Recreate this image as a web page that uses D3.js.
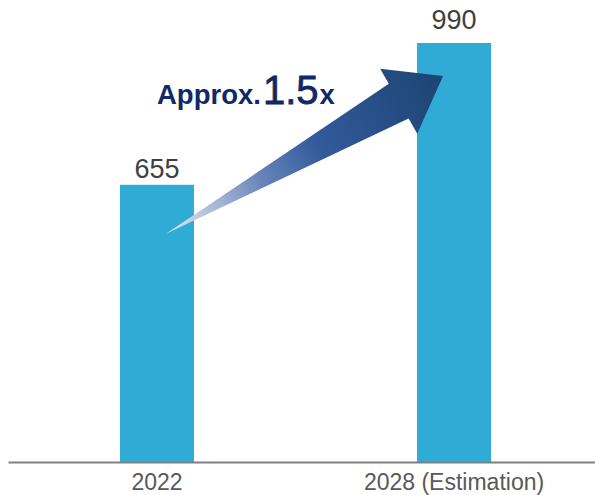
<!DOCTYPE html>
<html>
<head>
<meta charset="utf-8">
<script src="https://cdn.jsdelivr.net/npm/d3@7/dist/d3.min.js"></script>
<style>
  html, body { margin: 0; padding: 0; background: #fff; }
  svg { display: block; font-family: "Liberation Sans", Arial, sans-serif; }
</style>
</head>
<body>
<svg id="chart" width="595" height="495"></svg>
<script>
// Market size, 2022 vs. 2028 estimate
const categories = ["2022", "2028 (Estimation)"];
const values = [655, 990];
const growthLead = "Approx.";
const growthFactor = "1.5";
const growthUnit = "x";

const W = 595, H = 495;
const svg = d3.select("#chart");

const baseY = 462;
const x = d3.scaleBand()
  .domain(categories)
  .range([8, 603])
  .paddingInner(0.751)
  .paddingOuter(0.377);
const y = d3.scaleLinear().domain([0, 990]).range([baseY, 43]);

// bars
svg.selectAll("rect.bar")
  .data(values)
  .join("rect")
  .attr("class", "bar")
  .attr("x", (d, i) => x(categories[i]))
  .attr("y", d => y(d))
  .attr("width", x.bandwidth())
  .attr("height", d => baseY - y(d))
  .attr("fill", "#2fabd6");

// value labels
const labelGap = [7, 14];
svg.selectAll("text.val")
  .data(values)
  .join("text")
  .attr("class", "val")
  .attr("x", (d, i) => x(categories[i]) + x.bandwidth() / 2)
  .attr("y", (d, i) => y(d) - labelGap[i])
  .attr("text-anchor", "middle")
  .attr("font-size", 27)
  .attr("fill", "#404040")
  .text(d => d);

// x axis
const axis = svg.append("g")
  .attr("transform", `translate(0,${baseY})`)
  .call(d3.axisBottom(x).tickSize(0).tickPadding(0));
axis.select(".domain")
  .attr("stroke", "#808080")
  .attr("stroke-width", 2);
axis.selectAll(".tick text")
  .attr("y", 28)
  .attr("dy", 0)
  .attr("font-size", 23)
  .attr("font-family", "'Liberation Sans', Arial, sans-serif")
  .attr("fill", "#595959");

// growth arrow from the first bar to the second
const tail = [x(categories[0]) + x.bandwidth() / 2 + 9, y(values[0]) + 49];
const tip = [x(categories[1]) + x.bandwidth() / 2 - 11, y(values[1]) + 33];
const dx = tip[0] - tail[0], dy = tip[1] - tail[1];
const L = Math.hypot(dx, dy);
const angle = Math.atan2(dy, dx) * 180 / Math.PI;

const defs = svg.append("defs");
const grad = defs.append("linearGradient")
  .attr("id", "arrowGrad")
  .attr("gradientUnits", "userSpaceOnUse")
  .attr("x1", 0).attr("y1", 0).attr("x2", L).attr("y2", 0);
[
  [0, "#e4e8f0"],
  [0.18, "#a9b8d6"],
  [0.35, "#6583b9"],
  [0.55, "#335a9b"],
  [1, "#1c4472"]
].forEach(([o, c]) => grad.append("stop").attr("offset", o).attr("stop-color", c));

const headLen = 51, headHalf = 37.5, shaftHalf = 20;
const arrowPts = [
  [0, 0],
  [L - headLen, -shaftHalf],
  [L - headLen, -headHalf],
  [L, 0],
  [L - headLen, headHalf],
  [L - headLen, shaftHalf]
];
svg.append("path")
  .attr("transform", `translate(${tail[0]},${tail[1]}) rotate(${angle})`)
  .attr("d", "M" + arrowPts.map(p => p.join(",")).join("L") + "Z")
  .attr("fill", "url(#arrowGrad)");

// growth annotation
const note = svg.append("text")
  .attr("x", 157)
  .attr("y", 104)
  .attr("fill", "#0f2966");
note.append("tspan").attr("font-size", 27.5).attr("font-weight", "bold").text(growthLead);
note.append("tspan").attr("font-size", 40).attr("dx", 2)
  .attr("stroke", "#0f2966").attr("stroke-width", 0.8).text(growthFactor);
note.append("tspan").attr("font-size", 27.5).attr("font-weight", "bold").attr("dx", 1).text(growthUnit);
</script>
</body>
</html>
